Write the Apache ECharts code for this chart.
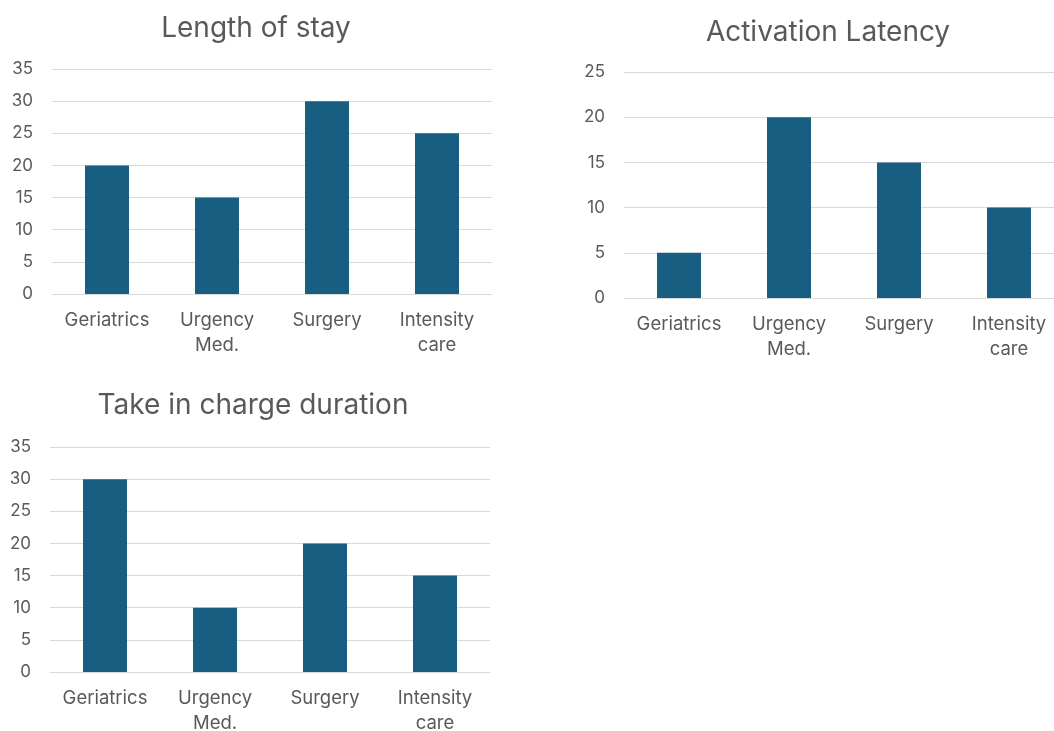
<!DOCTYPE html>
<html>
<head>
<meta charset="utf-8">
<script src="https://cdn.jsdelivr.net/npm/echarts@6/dist/echarts.min.js"></script>
<style>
  html, body { margin: 0; padding: 0; background: #ffffff; overflow: hidden; }
  #chart { width: 1054px; height: 731px; }
</style>
</head>
<body>
<div id="chart"></div>
<script>
// Wards shared by all three panels
const categories = ['Geriatrics', 'Urgency\nMed.', 'Surgery', 'Intensity\ncare'];

// Panel values
const lengthOfStay = [20, 15, 30, 25];
const activationLatency = [5, 20, 15, 10];
const takeInChargeDuration = [30, 10, 20, 15];

// Panel titles and y-axis tops
const panelTitles = ['Length of stay', 'Activation Latency', 'Take in charge duration'];
const yMaxima = [35, 25, 35];

const FONT = 'Inter, "Open Sans", sans-serif';
const TEXT = '#595959';
const GRID_LINE = '#D9D9D9';
const BAR = '#185E80';

// The right panel's plot runs past the page edge
const grids = [
  { left: 52, top: 69, width: 440, height: 225 },
  { left: 624, top: 72, width: 440, height: 226 },
  { left: 50, top: 447, width: 440, height: 225 }
];
const titlePos = [
  { left: 256, top: 15 },
  { left: 828, top: 19 },
  { left: 253, top: 392 }
];
const seriesData = [lengthOfStay, activationLatency, takeInChargeDuration];

const chart = echarts.init(document.getElementById('chart'), null, { renderer: 'canvas' });

chart.setOption({
  backgroundColor: '#ffffff',
  animation: false,
  title: panelTitles.map((t, i) => ({
    text: t,
    left: titlePos[i].left,
    top: titlePos[i].top,
    textAlign: 'center',
    padding: 0,
    textStyle: { fontFamily: FONT, fontSize: 28, fontWeight: 'normal', color: TEXT }
  })),
  grid: grids.map(g => Object.assign({ containLabel: false, outerBoundsMode: 'none' }, g)),
  xAxis: grids.map((g, i) => ({
    type: 'category',
    gridIndex: i,
    data: categories,
    axisLine: { show: true, lineStyle: { color: GRID_LINE, width: 1 } },
    axisTick: { show: false },
    axisLabel: {
      interval: 0,
      margin: 14,
      fontFamily: FONT,
      fontSize: 18.5,
      lineHeight: 25,
      color: TEXT
    }
  })),
  yAxis: grids.map((g, i) => ({
    type: 'value',
    gridIndex: i,
    min: 0,
    max: yMaxima[i],
    interval: 5,
    axisLine: { show: false },
    axisTick: { show: false },
    splitLine: { lineStyle: { color: GRID_LINE, width: 1 } },
    axisLabel: { margin: 19, fontFamily: FONT, fontSize: 17, color: TEXT }
  })),
  series: seriesData.map((d, i) => ({
    type: 'bar',
    xAxisIndex: i,
    yAxisIndex: i,
    data: d,
    barWidth: 44,
    itemStyle: { color: BAR }
  }))
});
</script>
</body>
</html>
